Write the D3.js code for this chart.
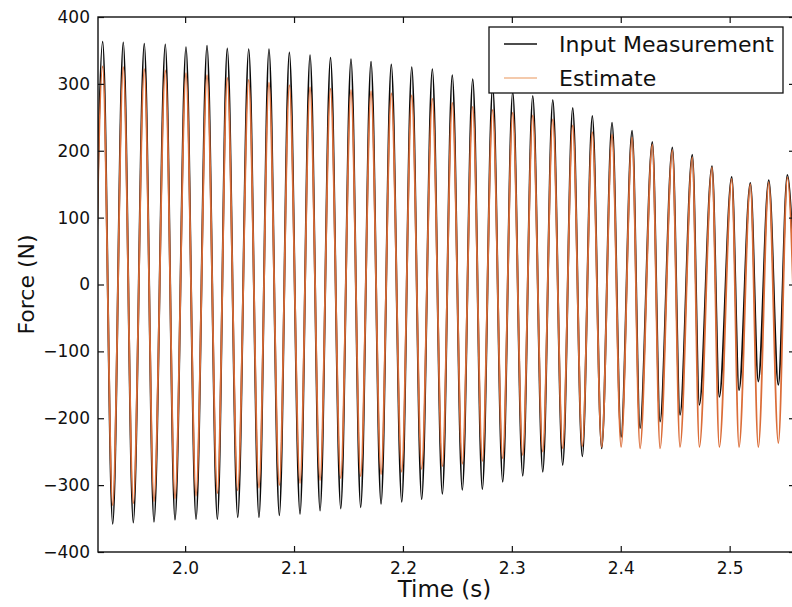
<!DOCTYPE html>
<html>
<head>
<meta charset="utf-8">
<script src="https://cdn.jsdelivr.net/npm/d3@7/dist/d3.min.js"></script>
<style>
  html, body { margin: 0; padding: 0; background: #fff; }
  svg { display: block; }
  text { font-family: "DejaVu Sans", sans-serif; fill: #111; }
</style>
</head>
<body>
<svg id="chart" width="792" height="607"></svg>
<script>
// ---- data ----
const seriesNames = ["Input Measurement", "Estimate"];
const xTicks = [2.0, 2.1, 2.2, 2.3, 2.4, 2.5];
const yTicks = [-400, -300, -200, -100, 0, 100, 200, 300, 400];

// times of the local maxima (s)
const peakTimes = [1.9243, 1.9432, 1.9625, 1.9818, 2.0008, 2.0201, 2.0387, 2.0584, 2.0770, 2.0957,
  2.1147, 2.1335, 2.1523, 2.1707, 2.1893, 2.2081, 2.2270, 2.2453, 2.2641, 2.2824,
  2.3008, 2.3192, 2.3376, 2.3559, 2.3739, 2.3920, 2.4104, 2.4290, 2.4474, 2.4657,
  2.4838, 2.5019, 2.5190, 2.5359, 2.5530];
// times of the local minima (s)
const troughTimes = [1.9150, 1.9335, 1.9524, 1.9714, 1.9907, 2.0100, 2.0296, 2.0483, 2.0678, 2.0865,
  2.1055, 2.1239, 2.1429, 2.1612, 2.1799, 2.1989, 2.2172, 2.2362, 2.2545, 2.2729,
  2.2916, 2.3100, 2.3284, 2.3467, 2.3647, 2.3825, 2.4003, 2.4177, 2.4361, 2.4544,
  2.4722, 2.4905, 2.5086, 2.5263, 2.5447, 2.5619];

// Input Measurement (N)
const measPeaks = [363, 362, 360, 359, 355, 357, 353, 352, 352, 347,
  343, 339, 337, 333, 329, 325, 322, 313, 307, 296,
  288, 282, 276, 264, 252, 242, 230, 213, 205, 194,
  177, 161, 152, 156, 164];
const measTroughs = [-355, -358, -356, -355, -352, -351, -351, -348, -348, -345,
  -343, -338, -335, -333, -328, -325, -321, -313, -307, -306,
  -295, -286, -280, -270, -257, -245, -228, -215, -205, -195,
  -180, -168, -158, -145, -150, -140];

// Estimate (N)
const estPeaks = [326, 325, 322, 320, 316, 313, 309, 306, 302, 298,
  295, 293, 291, 289, 286, 283, 278, 272, 266, 261,
  257, 253, 247, 238, 228, 224, 220, 209, 201, 190,
  175, 158, 150, 153, 160];
const estTroughs = [-330, -330, -327, -324, -320, -316, -312, -308, -304, -300,
  -297, -293, -290, -287, -284, -280, -276, -272, -268, -264,
  -260, -255, -250, -245, -242, -243, -243, -245, -245, -243,
  -243, -243, -243, -243, -237, -235];

// interleave extrema into a time series
function buildSeries(peaks, troughs) {
  const pts = [];
  for (let i = 0; i < troughTimes.length; i++) {
    pts.push({ t: troughTimes[i], v: troughs[i] });
    if (i < peakTimes.length) pts.push({ t: peakTimes[i], v: peaks[i] });
  }
  return pts;
}
const measSeries = buildSeries(measPeaks, measTroughs);
const estSeries = buildSeries(estPeaks, estTroughs);

// ---- layout ----
const svg = d3.select("#chart");
const pL = 98, pR = 795, pT = 17, pB = 552;
const x = d3.scaleLinear().domain([1.92, 2.56]).range([pL, pR]);
const y = d3.scaleLinear().domain([-400, 400]).range([pB, pT]);

svg.append("defs").append("clipPath").attr("id", "plotclip")
  .append("rect").attr("x", pL).attr("y", pT)
  .attr("width", pR - pL).attr("height", pB - pT);

const line = d3.line().x(d => x(d.t)).y(d => y(d.v)).curve(d3.curveMonotoneX);

const g = svg.append("g").attr("clip-path", "url(#plotclip)");
g.append("path").datum(measSeries).attr("d", line)
  .attr("fill", "none").attr("stroke", "#0a0a0a").attr("stroke-width", 1.9);
g.append("path").datum(estSeries).attr("d", line)
  .attr("fill", "none").attr("stroke", "#db6d38").attr("stroke-width", 1.8);

// axes (matplotlib classic: inward ticks on all sides)
const tickLen = 6;
const fmtX = d3.format(".1f");
const fmtY = d => (d < 0 ? "\u2212" + Math.abs(d) : String(d));

const bottomAxis = d3.axisBottom(x).tickValues(xTicks).tickSize(-tickLen).tickPadding(10).tickFormat(fmtX);
const topAxis = d3.axisTop(x).tickValues(xTicks).tickSize(-tickLen).tickFormat("");
const leftAxis = d3.axisLeft(y).tickValues(yTicks).tickSize(-tickLen).tickPadding(8).tickFormat(fmtY);
const rightAxis = d3.axisRight(y).tickValues(yTicks).tickSize(-tickLen).tickFormat("");

function styleAxis(sel) {
  sel.select(".domain").remove();
  sel.selectAll(".tick line").attr("stroke", "#111").attr("stroke-width", 1.2);
  sel.selectAll(".tick text").attr("font-size", 17).attr("fill", "#111")
    .style("font-family", "DejaVu Sans, sans-serif");
}
svg.append("g").attr("transform", `translate(0,${pB})`).call(bottomAxis).call(styleAxis);
svg.append("g").attr("transform", `translate(0,${pT})`).call(topAxis).call(styleAxis);
svg.append("g").attr("transform", `translate(${pL},0)`).call(leftAxis).call(styleAxis);
svg.append("g").attr("transform", `translate(${pR},0)`).call(rightAxis).call(styleAxis);

// frame
svg.append("rect").attr("x", pL).attr("y", pT)
  .attr("width", pR - pL).attr("height", pB - pT)
  .attr("fill", "none").attr("stroke", "#111").attr("stroke-width", 1.4);

// axis labels
svg.append("text").attr("x", (pL + pR) / 2 - 2).attr("y", 597)
  .attr("text-anchor", "middle").attr("font-size", 23).text("Time (s)");
svg.append("text").attr("transform", `translate(34,${(pT + pB) / 2}) rotate(-90)`)
  .attr("text-anchor", "middle").attr("font-size", 22).text("Force (N)");

// legend
const lg = svg.append("g");
lg.append("rect").attr("x", 489).attr("y", 27).attr("width", 294).attr("height", 66)
  .attr("fill", "#fff").attr("stroke", "#111").attr("stroke-width", 1.3);
const legColors = ["#111", "#f0b890"];
seriesNames.forEach((name, i) => {
  const yy = 44 + i * 34;
  lg.append("line").attr("x1", 504).attr("x2", 537).attr("y1", yy).attr("y2", yy)
    .attr("stroke", legColors[i]).attr("stroke-width", 1.4);
  lg.append("text").attr("x", 559).attr("y", yy + 8).attr("font-size", 22).text(name);
});
</script>
</body>
</html>
